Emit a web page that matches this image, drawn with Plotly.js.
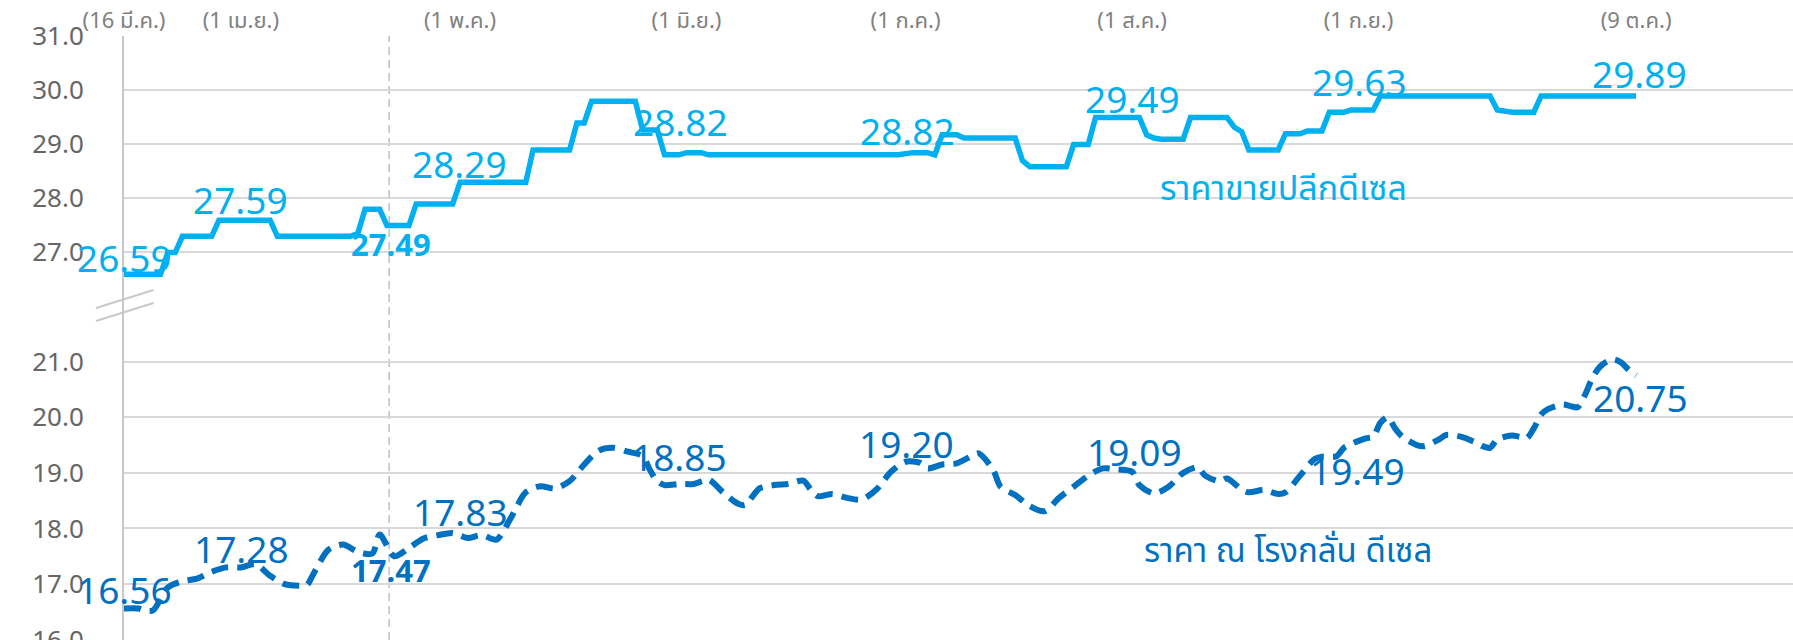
<!DOCTYPE html>
<html><head><meta charset="utf-8">
<script src="https://cdn.plot.ly/plotly-3.0.1.min.js"></script>
<style>html,body{margin:0;padding:0;background:#fff;} #chart{width:1793px;height:640px;}</style>
</head><body><div id="chart"></div>
<script>
// Day offsets counted from 16 Mar 2021
const startDate = Date.UTC(2021, 2, 16);

// Retail diesel price (upper, solid)
const retailDays  = [0,5,6,7,8,12,13,20,21,31,32,33,35,36,39,40,45,46,55,56,61,62,63,64,70,71,73,74,76,77,79,80,106,108,110,111,112,114,115,122,123,124,129,130,132,133,139,140,141,142,145,146,151,152,153,154,158,159,161,162,164,165,167,168,171,172,187,188,190,193,194,207];
const retailPrice = [26.59,26.59,26.99,26.99,27.29,27.29,27.59,27.59,27.29,27.29,27.34,27.79,27.79,27.49,27.49,27.89,27.89,28.29,28.29,28.89,28.89,29.39,29.39,29.79,29.79,29.26,29.26,28.80,28.80,28.84,28.84,28.80,28.80,28.84,28.84,28.80,29.17,29.17,29.11,29.11,28.69,28.58,28.58,28.99,28.99,29.49,29.49,29.17,29.11,29.09,29.09,29.49,29.49,29.31,29.23,28.89,28.89,29.19,29.19,29.24,29.24,29.59,29.59,29.63,29.63,29.89,29.89,29.63,29.59,29.59,29.89,29.89];

// Refinery diesel price (lower, dashed)
const refineryDays  = [0,2,3,4,6,8,10,12,14,16,18,20,22,24,25,26,28,30,32,34,35,37,39,41,43,45,47,49,51,53,55,57,59,61,63,65,67,69,71,72,73,74,76,78,80,82,84,85,87,89,91,93,94,95,97,99,101,103,105,107,109,110,112,114,116,117,119,120,122,124,126,128,130,132,134,136,138,139,141,143,145,147,148,150,151,153,154,156,158,159,161,163,164,166,167,168,170,171,172,173,174,175,177,178,180,181,183,185,186,187,188,190,191,192,193,194,195,197,198,199,200,201,202,203,204,205,206,207];
const refineryPrice = [16.56,16.56,16.52,16.53,16.94,17.05,17.10,17.22,17.30,17.30,17.36,17.15,17.00,16.97,16.98,17.20,17.62,17.71,17.58,17.55,17.89,17.50,17.65,17.82,17.88,17.92,17.83,17.88,17.80,18.20,18.65,18.76,18.72,18.85,19.15,19.40,19.45,19.38,19.30,19.05,18.85,18.78,18.80,18.80,18.88,18.65,18.45,18.42,18.72,18.78,18.80,18.86,18.70,18.58,18.62,18.55,18.52,18.70,19.02,19.20,19.18,19.08,19.15,19.17,19.30,19.35,19.05,18.75,18.60,18.40,18.31,18.55,18.75,18.95,19.08,19.06,19.02,18.78,18.63,18.75,19.00,19.10,18.95,18.85,18.90,18.70,18.65,18.69,18.62,18.65,18.95,19.25,19.29,19.30,19.45,19.52,19.62,19.65,19.90,20.00,19.80,19.65,19.50,19.48,19.60,19.68,19.65,19.55,19.48,19.45,19.60,19.67,19.65,19.62,19.80,20.05,20.15,20.23,20.20,20.18,20.40,20.70,20.90,21.00,21.04,20.98,20.85,20.75];

// Top axis tick labels
const tickDays   = [0,16,46,77,107,138,169,207];
const tickLabels = ['(16 มี.ค.)','(1 เม.ย.)','(1 พ.ค.)','(1 มิ.ย.)','(1 ก.ค.)','(1 ส.ค.)','(1 ก.ย.)','(9 ต.ค.)'];

// Value labels
const retailLabels   = ['26.59','27.59','27.49','28.29','28.82','28.82','29.49','29.63','29.89'];
const refineryLabels = ['16.56','17.28','17.47','17.83','18.85','19.20','19.09','19.49','20.75'];
const boldLabelIndex = 2;
const retailName   = 'ราคาขายปลีกดีเซล';
const refineryName = 'ราคา ณ โรงกลั่น ดีเซล';

// Label placement (day, axis value)
const retailLabelDay   = [0,15.9,36.5,45.9,76.2,107.2,138.1,169.1,207.5];
const retailLabelY     = [26.89,27.98,27.15,28.63,29.41,29.25,29.85,30.15,30.31];
const refineryLabelDay = [0,16.1,36.5,46.1,76.1,107.1,138.3,168.8,207.6];
const refineryLabelY   = [16.90,17.64,17.25,18.30,19.29,19.53,19.38,19.04,20.36];
const markerDay = 36.3;

function dayToDate(d) {
  return new Date(startDate + d * 86400000).toISOString().slice(0, 19).replace('T', ' ');
}

const C_RETAIL = '#00B0F0';
const C_REF = '#0070C0';
const FONT = 'Noto Sans, Noto Sans Thai, Tahoma, Leelawadee UI, sans-serif';

const traces = [
  {
    x: retailDays.map(dayToDate), y: retailPrice, xaxis: 'x', yaxis: 'y2',
    type: 'scatter', mode: 'lines', line: {color: C_RETAIL, width: 5.5},
    hoverinfo: 'skip', showlegend: false
  },
  {
    x: refineryDays.map(dayToDate), y: refineryPrice, xaxis: 'x', yaxis: 'y',
    type: 'scatter', mode: 'lines',
    line: {color: C_REF, width: 6, dash: '17px,9px', shape: 'spline', smoothing: 0.8},
    hoverinfo: 'skip', showlegend: false
  }
];

const annotations = [];
retailLabels.forEach((t, i) => {
  const bold = i === boldLabelIndex;
  annotations.push({
    x: dayToDate(retailLabelDay[i]), y: retailLabelY[i], xref: 'x', yref: 'y2',
    text: bold ? '<b>' + t + '</b>' : t, showarrow: false, xanchor: 'center', yanchor: 'middle',
    font: {family: FONT, size: bold ? 31 : 37, color: C_RETAIL}
  });
});
refineryLabels.forEach((t, i) => {
  const bold = i === boldLabelIndex;
  annotations.push({
    x: dayToDate(refineryLabelDay[i]), y: refineryLabelY[i], xref: 'x', yref: 'y',
    text: bold ? '<b>' + t + '</b>' : t, showarrow: false, xanchor: 'center', yanchor: 'middle',
    font: {family: FONT, size: bold ? 31 : 37, color: C_REF}
  });
});
annotations.push({
  x: dayToDate(158.7), y: 28.20, xref: 'x', yref: 'y2', text: retailName, showarrow: false,
  xanchor: 'center', yanchor: 'middle', font: {family: FONT, size: 34, color: C_RETAIL}
});
annotations.push({
  x: dayToDate(159.4), y: 17.62, xref: 'x', yref: 'y', text: refineryName, showarrow: false,
  xanchor: 'center', yanchor: 'middle', font: {family: FONT, size: 33, color: C_REF}
});

const GRID = '#D9D9D9';
const AXIS = '#C8C8C8';

const layout = {
  width: 1793, height: 640,
  margin: {l: 124, r: 0, t: 36, b: 0, pad: 0},
  paper_bgcolor: '#ffffff', plot_bgcolor: '#ffffff',
  showlegend: false,
  font: {family: FONT},
  xaxis: {
    type: 'date', range: [dayToDate(0), dayToDate(228.48)],
    side: 'top', anchor: 'y2',
    tickmode: 'array', tickvals: tickDays.map(dayToDate), ticktext: tickLabels,
    ticks: '', showgrid: false, zeroline: false, showline: false,
    tickfont: {family: FONT, size: 22, color: '#808080'},
    ticklabelstandoff: 3, automargin: false, ticklabeloverflow: 'allow'
  },
  yaxis2: {
    domain: [0.553, 1], range: [26, 31], anchor: 'x',
    tickmode: 'array', tickvals: [26, 27, 28, 29, 30, 31], ticktext: ['', '27.0', '28.0', '29.0', '30.0', '31.0'],
    showgrid: true, gridcolor: GRID, gridwidth: 2, zeroline: false,
    showline: true, linecolor: AXIS, linewidth: 2, ticks: '',
    tickfont: {family: FONT, size: 26, color: '#666666'},
    ticklabelstandoff: 33, automargin: false, ticklabeloverflow: 'allow'
  },
  yaxis: {
    domain: [0, 0.553], range: [15.995, 22], anchor: 'x',
    tickmode: 'array', tickvals: [16, 17, 18, 19, 20, 21], ticktext: ['16.0', '17.0', '18.0', '19.0', '20.0', '21.0'],
    showgrid: true, gridcolor: GRID, gridwidth: 2, zeroline: false,
    showline: true, linecolor: AXIS, linewidth: 2, ticks: '',
    tickfont: {family: FONT, size: 26, color: '#666666'},
    ticklabelstandoff: 33, automargin: false, ticklabeloverflow: 'allow'
  },
  shapes: [
    {type: 'line', xref: 'x', yref: 'paper', x0: dayToDate(markerDay), x1: dayToDate(markerDay), y0: 0, y1: 1,
     line: {color: '#BFBFBF', width: 1.5, dash: '8px,5px'}, layer: 'below'},
    {type: 'line', xref: 'paper', yref: 'paper', x0: -0.0168, x1: 0.0177, y0: 0.5497, y1: 0.5795,
     line: {color: AXIS, width: 2}},
    {type: 'line', xref: 'paper', yref: 'paper', x0: -0.0168, x1: 0.0177, y0: 0.5281, y1: 0.5579,
     line: {color: AXIS, width: 2}}
  ],
  annotations: annotations
};

Plotly.newPlot('chart', traces, layout, {displayModeBar: false, staticPlot: true});
</script>
</body></html>
